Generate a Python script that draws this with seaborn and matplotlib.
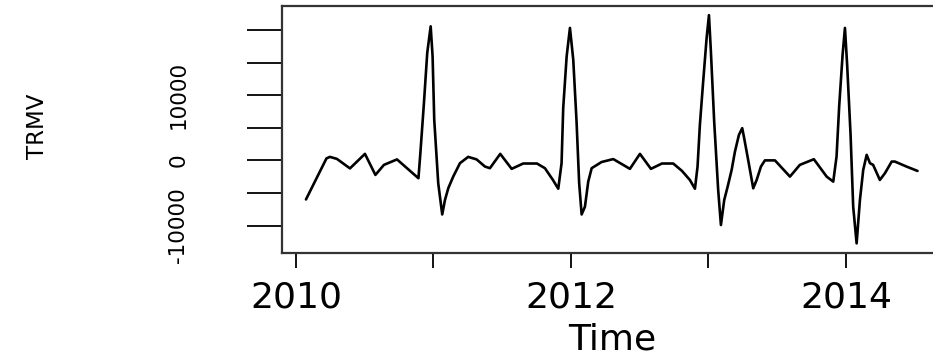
import matplotlib
matplotlib.use("Agg")
import matplotlib.pyplot as plt
import seaborn as sns
import pandas as pd

# vertices of the TRMV series (decimal years, values)
time = [2010.073, 2010.222, 2010.247, 2010.298, 2010.393, 2010.502, 2010.578, 2010.640,
        2010.735, 2010.891, 2010.905, 2010.931, 2010.955, 2010.980, 2010.994, 2011.006,
        2011.035, 2011.064, 2011.084, 2011.108, 2011.144, 2011.193, 2011.253, 2011.314,
        2011.375, 2011.411, 2011.486, 2011.569, 2011.653, 2011.753, 2011.811, 2011.869,
        2011.908, 2011.932, 2011.944, 2011.969, 2011.993, 2012.017, 2012.041, 2012.060,
        2012.078, 2012.102, 2012.126, 2012.151, 2012.223, 2012.308, 2012.380, 2012.429,
        2012.502, 2012.582, 2012.662, 2012.744, 2012.807, 2012.865, 2012.902, 2012.921,
        2012.938, 2012.962, 2012.987, 2013.004, 2013.018, 2013.042, 2013.071, 2013.091,
        2013.115, 2013.140, 2013.169, 2013.193, 2013.222, 2013.246, 2013.260, 2013.289,
        2013.326, 2013.351, 2013.382, 2013.411, 2013.484, 2013.593, 2013.665, 2013.767,
        2013.860, 2013.908, 2013.932, 2013.951, 2013.976, 2013.993, 2014.009, 2014.034,
        2014.053, 2014.078, 2014.102, 2014.126, 2014.151, 2014.175, 2014.198, 2014.247,
        2014.284, 2014.333, 2014.356, 2014.441, 2014.521]
trmv = [-6000, 300, 540, 230, -1230, 1000, -2230, -690,
        150, -2740, 1100, 8800, 16500, 20580, 15970, 6230,
        -3510, -8300, -6080, -4280, -2490, -430, 540, 150,
        -950, -1200, 1000, -1300, -480, -480, -1200, -3000,
        -4350, -430, 8030, 15970, 20340, 15460, 5970, -3510,
        -8300, -7110, -3260, -1200, -250, 200, -690, -1300,
        1000, -1300, -480, -480, -1600, -3000, -4350, -950,
        5460, 12120, 18800, 22300, 16740, 5970, -4540, -9920,
        -6080, -4030, -1460, 1350, 3920, 4950, 3420, 80,
        -4280, -3000, -950, 0, 0, -2490, -690, 180,
        -2490, -3260, 590, 8280, 16230, 20340, 14690, 3920,
        -7110, -12740, -6080, -1460, 850, -430, -690, -3000,
        -1970, -180, -180, -950, -1620]

x_ticks = [2010, 2011, 2012, 2013, 2014]
x_labels = ["2010", "", "2012", "", "2014"]
y_ticks = [-10000, -5000, 0, 5000, 10000, 15000, 20000]
y_labels = ["-10000", "", "0", "", "10000", "", ""]

df = pd.DataFrame({"Time": time, "TRMV": trmv})

sns.set_style("ticks")
plt.rcParams["font.family"] = ["DejaVu Sans"]

fig = plt.figure(figsize=(9.33, 3.56), dpi=100)
ax = fig.add_axes([281.5 / 933, 103.5 / 356, 660.5 / 933, 246.5 / 356])

sns.lineplot(data=df, x="Time", y="TRMV", ax=ax, color="black",
             linewidth=1.9, estimator=None, sort=False)

# R style: 4% padding on both axes
ax.margins(x=0.04, y=0.04)

ax.set_xticks(x_ticks)
ax.set_xticklabels(x_labels, fontsize=26)
ax.set_yticks(y_ticks)
ax.set_yticklabels(y_labels, fontsize=15.5, rotation=90, va="center")

ax.tick_params(axis="x", bottom=True, direction="out", length=11, width=1.3,
               pad=9, colors="black")
ax.tick_params(axis="y", left=True, direction="out", length=25, width=1.3,
               pad=42, colors="black")

for s in ax.spines.values():
    s.set_visible(True)
    s.set_color("#333333")
    s.set_linewidth(1.6)

ax.set_xlabel("Time", fontsize=26, labelpad=6, color="black")
ax.set_ylabel("TRMV", fontsize=16.5, color="black")
ax.yaxis.set_label_coords(-0.352, 0.51)

fig.savefig("out.png", dpi=100)
